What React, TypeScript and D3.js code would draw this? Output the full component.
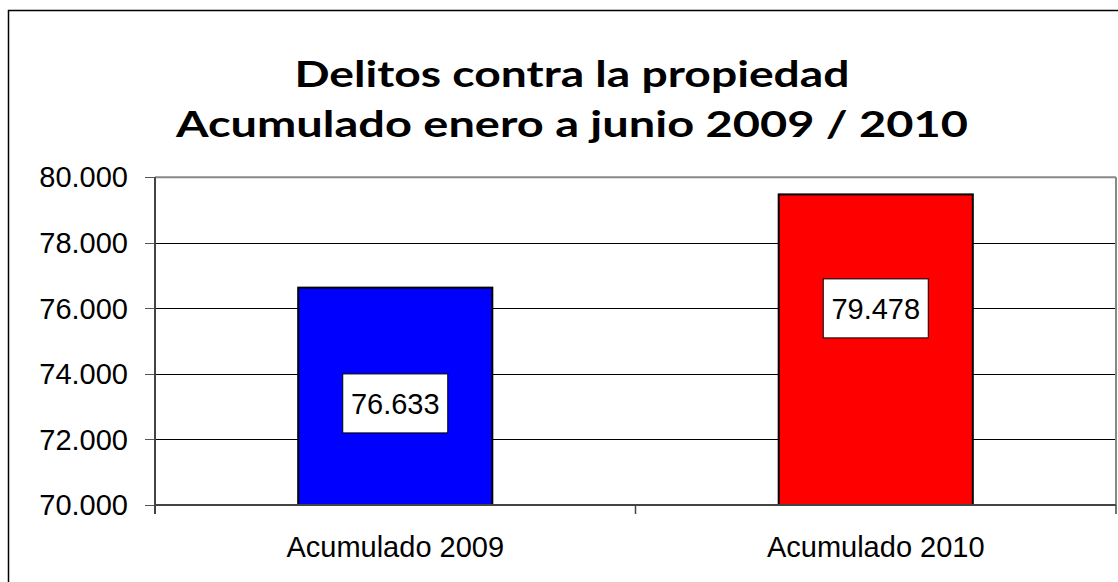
import React from "react";
import * as d3 from "d3";

const categories = ["Acumulado 2009", "Acumulado 2010"];
const values = [76633, 79478];
const barColors = ["#0000ff", "#ff0000"];
const labelTexts = ["76.633", "79.478"];
const labelAnchors = [73100, 76000];
const yTicks = [70000, 72000, 74000, 76000, 78000, 80000];
const titleLines = ["Delitos contra la propiedad", "Acumulado enero a junio 2009 / 2010"];

const W = 1118;
const H = 582;
const plot = { left: 155, right: 1116, top: 177.3, bottom: 505 };

const fmt = (v: number) => d3.format(",.3f")(v / 1000).replace(",", "");

export default function App() {
  const y = d3.scaleLinear().domain([70000, 80000]).range([plot.bottom, plot.top]);
  const x = d3
    .scaleBand<string>()
    .domain(categories)
    .range([plot.left, plot.right])
    .paddingInner(0.596)
    .paddingOuter(0.298);
  const band = d3.scaleBand<string>().domain(categories).range([plot.left, plot.right]);
  const font = "'Liberation Sans', Arial, sans-serif";
  const titleFont = "Lato, 'Open Sans', sans-serif";
  const boxW = 105;
  const boxH = 59;

  return (
    <svg
      width={W}
      height={H}
      style={{ position: "absolute", left: 0, top: 0, background: "#fff" }}
    >
      <rect x={8.5} y={10.5} width={W + 20} height={H + 20} fill="#fff" stroke="#000" strokeWidth={1.5} />
      {/* title */}
      <text
        x={572}
        y={87}
        textAnchor="middle"
        fontFamily={titleFont}
        fontWeight="bold"
        fontSize={37}
        textLength={555}
        lengthAdjust="spacingAndGlyphs"
        fill="#000"
      >
        {titleLines[0]}
      </text>
      <text
        x={572}
        y={137}
        textAnchor="middle"
        fontFamily={titleFont}
        fontWeight="bold"
        fontSize={37}
        textLength={792}
        lengthAdjust="spacingAndGlyphs"
        fill="#000"
      >
        {titleLines[1]}
      </text>

      {/* gridlines */}
      {yTicks.map((t) => (
        <g key={t}>
          <line x1={plot.left} x2={plot.right} y1={Math.round(y(t)) + 0.5} y2={Math.round(y(t)) + 0.5} stroke="#000" strokeWidth={1} />
          <line x1={145} x2={plot.left} y1={Math.round(y(t)) + 0.5} y2={Math.round(y(t)) + 0.5} stroke="#555" strokeWidth={1} />
          <text
            x={128}
            y={y(t)}
            dy="0.35em"
            textAnchor="end"
            fontFamily={font}
            fontSize={29}
            fill="#000"
          >
            {fmt(t)}
          </text>
        </g>
      ))}

      {/* plot frame */}
      <line x1={plot.left} x2={plot.right} y1={plot.top} y2={plot.top} stroke="#888" strokeWidth={2} />
      <line x1={plot.right} x2={plot.right} y1={plot.top} y2={plot.bottom} stroke="#888" strokeWidth={2} />

      {/* bars */}
      {categories.map((c, i) => (
        <rect
          key={c}
          x={x(c)}
          y={y(values[i])}
          width={x.bandwidth()}
          height={plot.bottom - y(values[i])}
          fill={barColors[i]}
          stroke="#000"
          strokeWidth={2}
        />
      ))}

      {/* axes */}
      <line x1={plot.left} x2={plot.left} y1={plot.top} y2={514} stroke="#444" strokeWidth={2} />
      <line x1={plot.left} x2={plot.right} y1={plot.bottom} y2={plot.bottom} stroke="#444" strokeWidth={2} />
      {[...categories.map((c) => band(c) as number), plot.right].map((px, i) => (
        <line key={i} x1={px} x2={px} y1={plot.bottom} y2={514} stroke="#444" strokeWidth={1.5} />
      ))}
      {categories.map((c) => (
        <text
          key={c}
          x={(band(c) as number) + band.bandwidth() / 2}
          y={557}
          textAnchor="middle"
          fontFamily={font}
          fontSize={29}
          fill="#000"
        >
          {c}
        </text>
      ))}

      {/* data labels */}
      {categories.map((c, i) => {
        const cx = (x(c) as number) + x.bandwidth() / 2;
        const cy = y(labelAnchors[i]);
        return (
          <g key={c}>
            <rect x={cx - boxW / 2} y={cy - boxH / 2} width={boxW} height={boxH} fill="#fff" stroke="#000" strokeWidth={1} />
            <text x={cx} y={cy} dy="0.36em" textAnchor="middle" fontFamily={font} fontSize={29} fill="#000">
              {labelTexts[i]}
            </text>
          </g>
        );
      })}
    </svg>
  );
}
